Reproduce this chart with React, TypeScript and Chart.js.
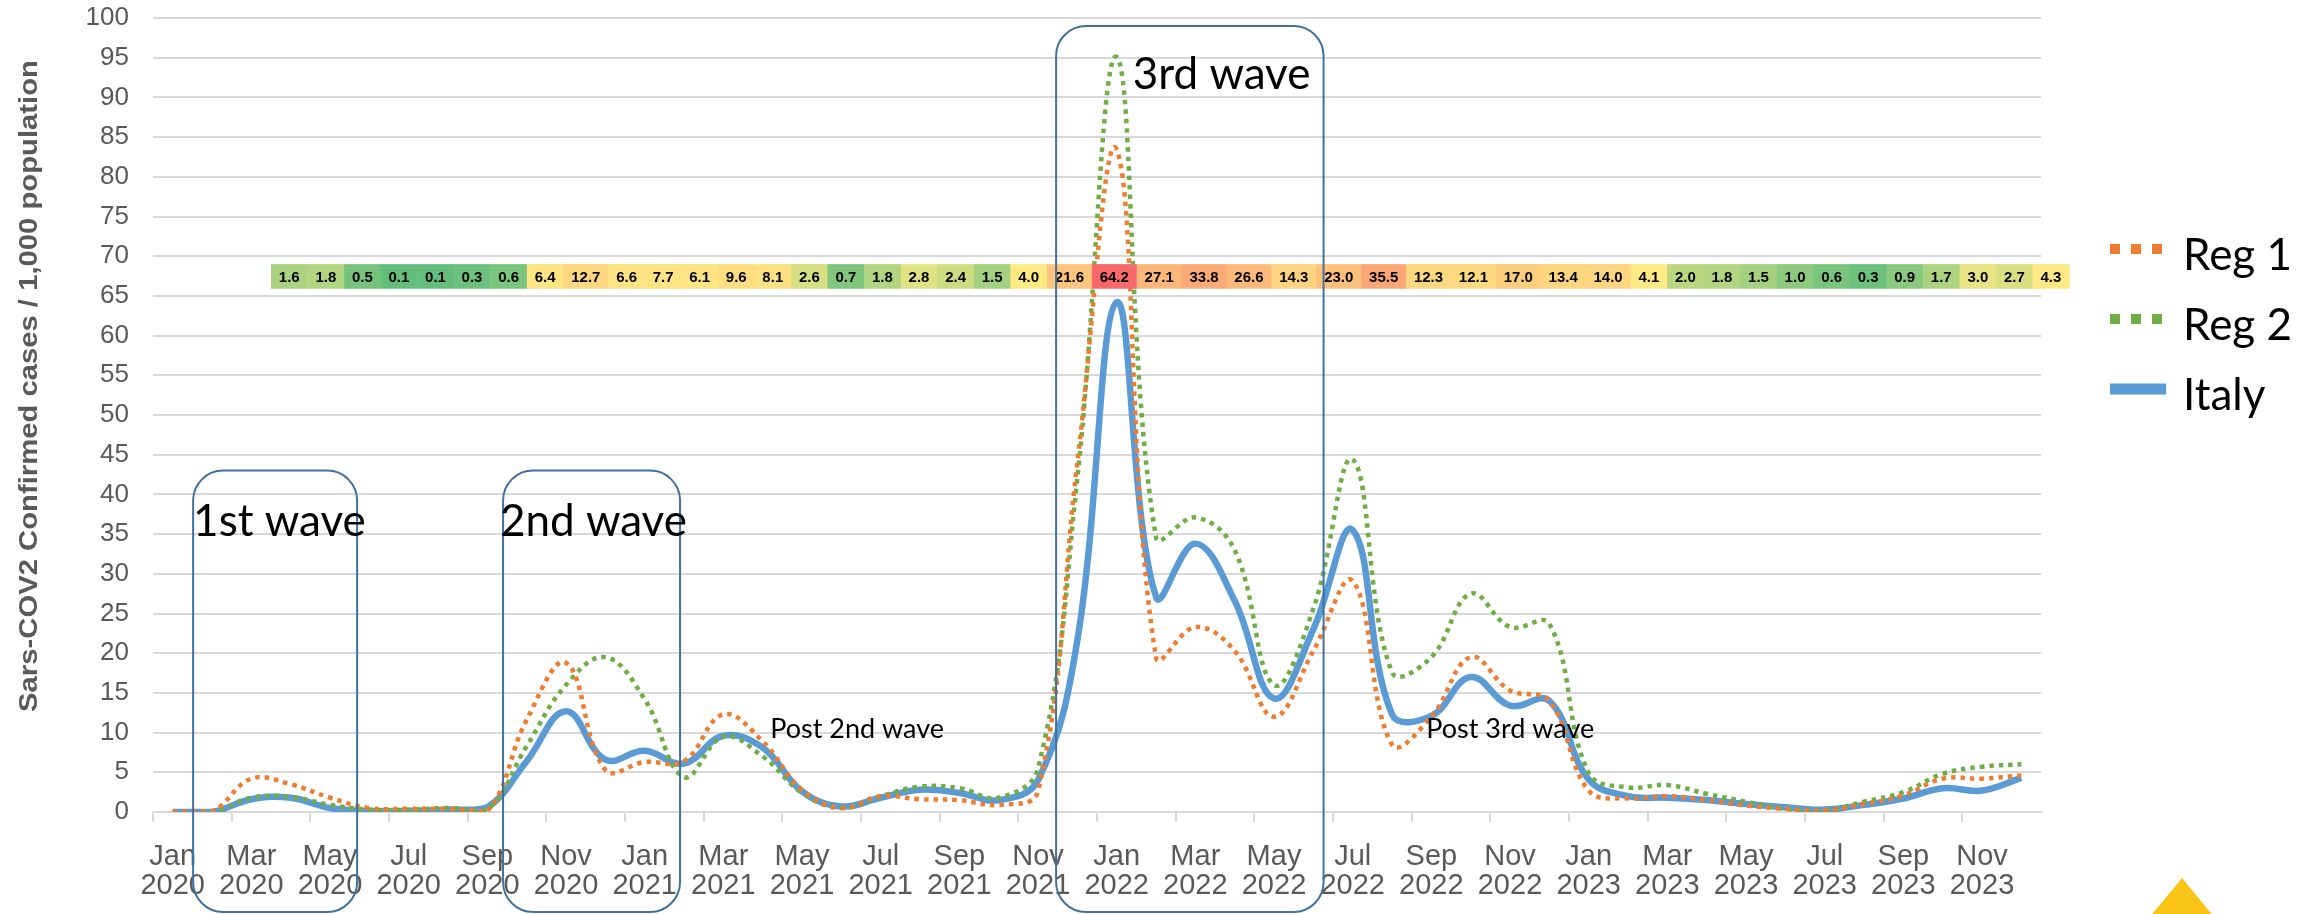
import React, { useEffect, useRef } from 'react';
import { Chart, registerables } from 'chart.js';

Chart.register(...registerables);

// ---------- data ----------
const monthNames = ['Jan', 'Feb', 'Mar', 'Apr', 'May', 'Jun', 'Jul', 'Aug', 'Sep', 'Oct', 'Nov', 'Dec'];
const years = ['2020', '2021', '2022', '2023'];
const categories = years.flatMap((yr) => monthNames.map((m) => [m, yr]));

const seriesLabels = ['Reg 1', 'Reg 2', 'Italy'];

const reg1 = [0.0, 0.1, 4.2, 3.5, 1.8, 0.5, 0.4, 0.4, 0.1, 11.6, 18.8, 5.3, 6.3, 6.4, 12.3, 8.9, 2.8, 0.5, 2.0, 1.6, 1.5, 0.9, 2.6, 44.0, 83.4, 19.5, 23.3, 20.3, 12.0, 20.3, 29.1, 8.5, 12.0, 19.5, 15.3, 14.0, 2.7, 1.7, 2.0, 1.5, 0.8, 0.4, 0.2, 1.0, 2.1, 4.2, 4.2, 4.6];
const reg2 = [0.0, 0.0, 1.8, 1.9, 0.9, 0.3, 0.3, 0.5, 0.3, 8.3, 16.0, 19.5, 14.2, 4.4, 9.5, 7.0, 2.4, 0.5, 2.0, 3.2, 3.0, 1.8, 5.5, 42.0, 95.1, 34.6, 37.1, 33.0, 16.0, 25.6, 44.4, 17.6, 19.5, 27.5, 23.3, 23.7, 4.9, 3.1, 3.4, 2.3, 1.3, 0.4, 0.2, 1.3, 2.5, 4.8, 5.7, 6.0];
const italy = [0.0, 0.0, 1.6, 1.8, 0.5, 0.1, 0.1, 0.3, 0.6, 6.4, 12.7, 6.6, 7.7, 6.1, 9.6, 8.1, 2.6, 0.7, 1.8, 2.8, 2.4, 1.5, 4.0, 21.6, 64.2, 27.1, 33.8, 26.6, 14.3, 23.0, 35.5, 12.3, 12.1, 17.0, 13.4, 14.0, 4.1, 2.0, 1.8, 1.5, 1.0, 0.6, 0.3, 0.9, 1.7, 3.0, 2.7, 4.3];

// heat-strip table: Italy monthly values, Mar 2020 – Dec 2023
const stripValues = italy.slice(2);

const yTitle = 'Sars-COV2 Confirmed cases / 1,000 population';

// annotations (in axis units: category index / y value)
const waveBoxes = [
  { label: '1st wave', from: 0.52, to: 4.69, top: 43, textX: 0.52, textY: 34.8 },
  { label: '2nd wave', from: 8.4, to: 12.9, top: 43, textX: 8.32, textY: 34.8 },
  { label: '3rd wave', from: 22.46, to: 29.26, top: 99, textX: 24.41, textY: 91.0 },
];
const noteLabels = [
  { label: 'Post 2nd wave', x: 15.19, y: 9.3 },
  { label: 'Post 3rd wave', x: 31.87, y: 9.3 },
];

// ---------- styles ----------
const COLORS = { reg1: '#ED7D31', reg2: '#70AD47', italy: '#5B9BD5' };
const AXIS_FONT = '"Liberation Sans", Arial, sans-serif';
const NOTE_FONT = 'Lato, "Noto Sans", sans-serif';

function lerp(a: number, b: number, t: number) {
  return Math.round(a + (b - a) * t);
}
function scaleColor(v: number, min: number, mid: number, max: number) {
  const g = [99, 190, 123];
  const yl = [255, 235, 132];
  const r = [248, 105, 107];
  let c;
  if (v <= mid) {
    const t = (v - min) / (mid - min || 1);
    c = g.map((gv, i) => lerp(gv, yl[i], t));
  } else {
    const t = (v - mid) / (max - mid || 1);
    c = yl.map((yv, i) => lerp(yv, r[i], t));
  }
  return `rgb(${c[0]},${c[1]},${c[2]})`;
}

const overlayPlugin = {
  id: 'overlay',
  afterDatasetsDraw(chart: any) {
    const { ctx } = chart;
    const x = chart.scales.x;
    const y = chart.scales.y;
    const catW = x.getPixelForValue(1) - x.getPixelForValue(0);

    // heat strip
    const sorted = [...stripValues].sort((a, b) => a - b);
    const rank = (sorted.length - 1) * 0.5;
    const mid = sorted[Math.floor(rank)] + (sorted[Math.ceil(rank)] - sorted[Math.floor(rank)]) * (rank - Math.floor(rank));
    const min = sorted[0];
    const max = sorted[sorted.length - 1];
    ctx.save();
    ctx.font = `bold 15px ${AXIS_FONT}`;
    ctx.textAlign = 'center';
    ctx.textBaseline = 'middle';
    const top = y.getPixelForValue(69.0);
    const bottom = y.getPixelForValue(65.9);
    let cx = x.getPixelForValue(3) - catW / 2;
    stripValues.forEach((v) => {
      const txt = v.toFixed(1);
      const w = ctx.measureText(txt).width + 15.7;
      ctx.fillStyle = scaleColor(v, min, mid, max);
      ctx.fillRect(cx, top, w + 0.5, bottom - top);
      ctx.fillStyle = '#000';
      ctx.fillText(txt, cx + w / 2, (top + bottom) / 2 + 1);
      cx += w;
    });
    ctx.restore();

    // wave boxes
    ctx.save();
    ctx.strokeStyle = '#41719C';
    ctx.lineWidth = 2;
    waveBoxes.forEach((b) => {
      const l = x.getPixelForValue(b.from);
      const r = x.getPixelForValue(b.to);
      const t = y.getPixelForValue(b.top);
      const btm = chart.height - 2;
      ctx.beginPath();
      ctx.roundRect(l, t, r - l, btm - t, 30);
      ctx.stroke();
    });
    ctx.fillStyle = '#000';
    ctx.textBaseline = 'alphabetic';
    ctx.textAlign = 'left';
    ctx.font = `44px ${NOTE_FONT}`;
    waveBoxes.forEach((b) => {
      ctx.fillText(b.label, x.getPixelForValue(b.textX), y.getPixelForValue(b.textY));
    });
    ctx.font = `27px ${NOTE_FONT}`;
    noteLabels.forEach((n) => {
      ctx.fillText(n.label, x.getPixelForValue(n.x), y.getPixelForValue(n.y));
    });
    ctx.restore();
  },
  afterDraw(chart: any) {
    const { ctx } = chart;
    // y-axis title
    ctx.save();
    ctx.translate(30, 386);
    ctx.rotate(-Math.PI / 2);
    ctx.scale(1.17, 1);
    ctx.font = `bold 25px ${AXIS_FONT}`;
    ctx.fillStyle = '#595959';
    ctx.textAlign = 'center';
    ctx.textBaseline = 'middle';
    ctx.fillText(yTitle, 0, 0);
    ctx.restore();

    // legend
    ctx.save();
    chart.data.datasets.forEach((d: any, i: number) => {
      const dotted = d.borderDash && d.borderDash.length;
      const my = 249 + i * 70;
      ctx.strokeStyle = d.borderColor;
      ctx.lineWidth = dotted ? 10 : 11;
      ctx.setLineDash(dotted ? [10, 11] : []);
      ctx.lineCap = 'butt';
      ctx.beginPath();
      ctx.moveTo(2110, my);
      ctx.lineTo(dotted ? 2162 : 2166, my);
      ctx.stroke();
      ctx.setLineDash([]);
      ctx.fillStyle = '#000';
      ctx.font = `44px ${NOTE_FONT}`;
      ctx.textBaseline = 'alphabetic';
      ctx.textAlign = 'left';
      ctx.fillText(d.label, 2183, my + 21);
    });
    ctx.restore();

    // decorative yellow triangle
    ctx.save();
    ctx.fillStyle = '#F9C416';
    ctx.beginPath();
    ctx.moveTo(2182, 878);
    ctx.lineTo(2215, 918);
    ctx.lineTo(2149, 918);
    ctx.closePath();
    ctx.fill();
    ctx.restore();
  },
};

export default function App() {
  const ref = useRef<HTMLCanvasElement | null>(null);

  useEffect(() => {
    if (!ref.current) return;
    const chart = new Chart(ref.current, {
      type: 'line',
      data: {
        labels: categories.map((c) => c.join(' ')),
        datasets: [
          {
            label: seriesLabels[0],
            data: reg1,
            borderColor: COLORS.reg1,
            borderWidth: 4.5,
            borderDash: [4.5, 5],
            pointRadius: 0,
            tension: 0.4,
            fill: false,
          },
          {
            label: seriesLabels[1],
            data: reg2,
            borderColor: COLORS.reg2,
            borderWidth: 4.5,
            borderDash: [4.5, 5],
            pointRadius: 0,
            tension: 0.4,
            fill: false,
          },
          {
            label: seriesLabels[2],
            data: italy,
            borderColor: COLORS.italy,
            borderWidth: 6.5,
            pointRadius: 0,
            tension: 0.4,
            fill: false,
          },
        ],
      },
      options: {
        responsive: false,
        animation: false,
        devicePixelRatio: 1,
        layout: { padding: { left: 0, right: 279, top: 18, bottom: 0 } },
        plugins: {
          legend: { display: false },
          tooltip: { enabled: false },
        },
        scales: {
          x: {
            type: 'category',
            offset: true,
            afterFit: (s: any) => {
              s.height = 102;
            },
            grid: {
              offset: true,
              drawOnChartArea: false,
              tickLength: 10,
              lineWidth: 2,
              color: (c: any) => (c.index % 2 === 0 ? '#D9D9D9' : 'rgba(0,0,0,0)'),
            },
            border: { display: true, color: '#D9D9D9', width: 2 },
            ticks: {
              autoSkip: false,
              maxRotation: 0,
              minRotation: 0,
              padding: 20,
              color: '#595959',
              font: { family: AXIS_FONT, size: 29, lineHeight: 1.02 },
              callback: (_v: any, i: number) => (i % 2 === 0 ? categories[i] : ''),
            },
          },
          y: {
            min: 0,
            max: 100,
            afterFit: (s: any) => {
              s.width = 153;
              s.paddingTop = 0;
              s.paddingBottom = 0;
            },
            grid: { color: '#D9D9D9', lineWidth: 2, drawTicks: false },
            border: { display: false },
            ticks: {
              stepSize: 5,
              padding: 24,
              color: '#595959',
              font: { family: AXIS_FONT, size: 26 },
            },
          },
        },
      },
      plugins: [overlayPlugin],
    });
    return () => chart.destroy();
  }, []);

  return (
    <div style={{ position: 'fixed', left: 0, top: 0, width: 2320, height: 914, background: '#fff' }}>
      <canvas ref={ref} width={2320} height={914} style={{ display: 'block' }} />
    </div>
  );
}
